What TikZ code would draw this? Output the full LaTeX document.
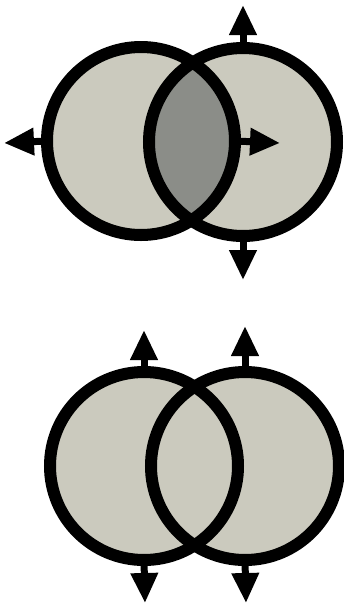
\documentclass[tikz,border=0pt]{standalone}
\usetikzlibrary{arrows.meta}
\definecolor{lightfill}{HTML}{CBCABE}
\definecolor{darkfill}{HTML}{8B8D88}
\tikzset{
  ring/.style={circle,draw=black,line width=12pt,minimum size=188pt,inner sep=0pt,outer sep=0pt},
  arr/.style={line width=7pt,-{Triangle[width=26pt,length=30pt]}}
}
\begin{document}
\begin{tikzpicture}[x=1pt,y=-1pt]
\useasboundingbox (0,0) rectangle (344,606);
% top pair fills
\fill[lightfill] (141,141) circle (94) (243,142) circle (94);
\begin{scope}
\clip (141,141) circle (94);
\fill[darkfill] (243,142) circle (94);
\end{scope}
% bottom pair fills
\fill[lightfill] (144,466) circle (94) (245,466) circle (94);
% rings
\node[ring] (A) at (141,141) {};
\node[ring] (B) at (243,142) {};
\node[ring] (C) at (144,466) {};
\node[ring] (D) at (245,466) {};
% arrow ends
\coordinate (bt) at (243,5);
\coordinate (bb) at (243,280);
\coordinate (al) at (4,143);
\coordinate (ar) at (280,143);
\coordinate (ct) at (144,330);
\coordinate (cb) at (145,603);
\coordinate (dt) at (245,326);
\coordinate (db) at (246,603);
% arrows
\draw[arr] (B.north) -- (bt);
\draw[arr] (B.south) -- (bb);
\draw[arr] (A.west) -- (al);
\draw[arr] (A.east) -- (ar);
\draw[arr] (C.north) -- (ct);
\draw[arr] (C.south) -- (cb);
\draw[arr] (D.north) -- (dt);
\draw[arr] (D.south) -- (db);
\end{tikzpicture}
\end{document}
